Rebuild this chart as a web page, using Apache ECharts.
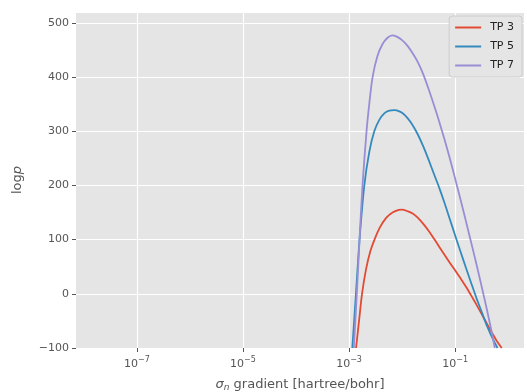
<!DOCTYPE html>
<html>
<head>
<meta charset="utf-8">
<script src="https://cdn.jsdelivr.net/npm/echarts@6/dist/echarts.min.js"></script>
<style>
    html, body { margin: 0; padding: 0; background: #fff; }
    #chart { width: 527px; height: 392px; }
</style>
</head>
<body>
<div id="chart"></div>
<script>
// x values are log10(sigma_n gradient)
var tp3X = [-2.868, -2.806, -2.755, -2.68, -2.6, -2.52, -2.42, -2.3, -2.18, -2.06, -2.0, -1.9, -1.8, -1.7, -1.6, -1.5, -1.4, -1.3, -1.2, -1.1, -1.0, -0.9, -0.8, -0.7, -0.6, -0.5, -0.4, -0.3, -0.2, -0.12];
var tp3Y = [-100, -45, 0, 45, 78, 100, 122, 140, 150, 155, 155.5, 152.5, 148, 140, 129, 116.5, 102, 87, 72, 57.5, 43.5, 29, 14, -2.5, -19.5, -37, -55, -72.5, -89, -100];

var tp5X = [-2.938, -2.870, -2.802, -2.712, -2.618, -2.524, -2.429, -2.335, -2.241, -2.147, -2.1, -2.0, -1.9, -1.8, -1.7, -1.6, -1.5, -1.4, -1.3, -1.2, -1.1, -1.0, -0.9, -0.8, -0.7, -0.6, -0.5, -0.4, -0.3, -0.2];
var tp5Y = [-100, 0, 100, 200, 262, 300, 321, 333, 338, 339, 338.5, 334, 324.5, 311, 293.5, 272, 247.5, 221.5, 196, 168, 138, 108, 78.5, 49.5, 21, -7, -33, -59, -81, -100];

var tp7X = [-2.910, -2.853, -2.802, -2.746, -2.670, -2.618, -2.556, -2.467, -2.373, -2.279, -2.185, -2.1, -2.0, -1.9, -1.8, -1.7, -1.6, -1.5, -1.4, -1.3, -1.2, -1.1, -1.0, -0.9, -0.8, -0.7, -0.6, -0.5, -0.4, -0.3, -0.25];
var tp7Y = [-100, 0, 100, 200, 300, 351, 400, 438, 460, 472, 477, 474.5, 468, 458, 444, 427, 405, 378, 349, 318, 285, 250, 213, 175, 136, 96, 56, 14, -29, -75, -100];

var xTicks = [-7, -5, -3, -1];

function pairs(xs, ys) {
    var out = [];
    for (var i = 0; i < xs.length; i++) {
        out.push([xs[i], ys[i]]);
    }
    return out;
}

function makeSeries(name, xs, ys, color) {
    return {
        name: name,
        type: "line",
        data: pairs(xs, ys),
        symbol: "none",
        smooth: 0.3,
        clip: true,
        lineStyle: { color: color, width: 1.8 },
        itemStyle: { color: color }
    };
}

var chart = echarts.init(document.getElementById("chart"));
var font = "DejaVu Sans";

var option = {
    animation: false,
    textStyle: { fontFamily: font },
    grid: {
        left: 76, right: 3, top: 12, bottom: 44,
        outerBoundsMode: "none",
        show: true,
        backgroundColor: "#E5E5E5",
        borderWidth: 0
    },
    legend: {
        orient: "vertical",
        right: 5,
        top: 16,
        icon: "path://M0,0L26,0L26,2L0,2Z",
        itemWidth: 26,
        itemHeight: 2,
        itemGap: 6,
        padding: [5, 8, 5, 6],
        backgroundColor: "#E5E5E5",
        borderColor: "#CCCCCC",
        borderWidth: 1,
        borderRadius: 3,
        textStyle: { fontFamily: font, fontSize: 11, lineHeight: 13, color: "#222", padding: [0, 0, 0, 4] },
        data: ["TP 3", "TP 5", "TP 7"]
    },
    xAxis: {
        type: "value",
        min: -8.15,
        max: 0.3,
        name: "{i|σ}{sub|n}{t| gradient [hartree/bohr]}",
        nameLocation: "middle",
        nameGap: 29,
        nameTextStyle: {
            rich: {
                i: { fontFamily: font, fontSize: 13, fontStyle: "italic", color: "#555" },
                sub: { fontFamily: font, fontSize: 9, fontStyle: "italic", color: "#555", padding: [6, 0, 0, 0] },
                t: { fontFamily: font, fontSize: 13, color: "#555" }
            }
        },
        axisLine: { show: false, onZero: false },
        axisTick: { show: true, length: 4, customValues: xTicks, lineStyle: { color: "#555", width: 1 } },
        axisLabel: {
            customValues: xTicks,
            margin: 8,
            formatter: function (v) {
                return "{b|10}{s|" + String(v).replace("-", "\u2212") + "}";
            },
            rich: {
                b: { fontFamily: font, fontSize: 11, color: "#555", verticalAlign: "bottom" },
                s: { fontFamily: font, fontSize: 8, color: "#555", verticalAlign: "bottom", padding: [0, 0, 6, 0] }
            }
        },
        splitLine: { show: true, lineStyle: { color: "#fff", width: 1.2 } }
    },
    yAxis: {
        type: "value",
        min: -100,
        max: 520,
        interval: 100,
        name: "{a|log}{i|p}",
        nameLocation: "middle",
        nameGap: 52,
        nameTextStyle: {
            rich: {
                a: { fontFamily: font, fontSize: 13, color: "#555" },
                i: { fontFamily: font, fontSize: 13, fontStyle: "italic", color: "#555" }
            }
        },
        axisLine: { show: false, onZero: false },
        axisTick: { show: true, length: 4, lineStyle: { color: "#555", width: 1 } },
        axisLabel: {
            showMaxLabel: false,
            margin: 7,
            fontSize: 11,
            color: "#555",
            formatter: function (v) {
                return String(v).replace("-", "\u2212");
            }
        },
        splitLine: { show: true, lineStyle: { color: "#fff", width: 1.2 } }
    },
    series: [
        makeSeries("TP 3", tp3X, tp3Y, "#E24A33"),
        makeSeries("TP 5", tp5X, tp5Y, "#348ABD"),
        makeSeries("TP 7", tp7X, tp7Y, "#988ED5")
    ]
};

chart.setOption(option);
</script>
</body>
</html>
